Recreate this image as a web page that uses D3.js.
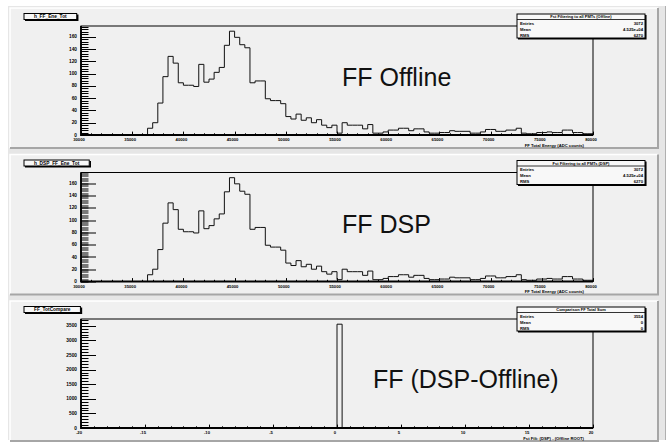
<!DOCTYPE html>
<html>
<head>
<meta charset="utf-8">
<script src="https://cdn.jsdelivr.net/npm/d3@7"></script>
<style>
body { margin: 0; background: #fff; }
svg { display: block; font-family: "Liberation Sans", Arial, sans-serif; }
</style>
</head>
<body>
<div id="graphic"></div>
<script>
// DATA (100 bins per histogram)
var energyTicks = [30000, 35000, 40000, 45000, 50000, 55000, 60000, 65000, 70000, 75000, 80000];
var diffTicks = [-20, -15, -10, -5, 0, 5, 10, 15, 20];
var countTicksFF = [0, 20, 40, 60, 80, 100, 120, 140, 160];
var countTicksDiff = [0, 500, 1000, 1500, 2000, 2500, 3000, 3500];

var ffOffline = [
  0, 0, 0, 0, 0, 0, 0, 0, 0, 0,
  0, 0, 0, 11, 20, 52, 95, 128, 117, 85,
  81, 81, 79, 115, 86, 91, 102, 110, 146, 169,
  159, 147, 142, 85, 88, 88, 59, 56, 56, 51,
  30, 26, 34, 24, 28, 20, 25, 16, 12, 16,
  3, 20, 16, 16, 16, 10, 17, 3, 3, 5,
  8, 8, 11, 11, 7, 10, 10, 5, 3, 3,
  4, 4, 7, 6, 6, 6, 3, 3, 5, 9,
  9, 6, 6, 8, 8, 11, 3, 2, 2, 4,
  4, 5, 4, 4, 8, 8, 4, 4, 2, 2
];
var ffDsp = [
  0, 0, 0, 0, 0, 0, 0, 0, 0, 0,
  0, 0, 0, 11, 20, 52, 95, 128, 117, 85,
  81, 81, 79, 115, 86, 91, 102, 110, 146, 169,
  159, 147, 142, 85, 88, 88, 59, 56, 56, 51,
  30, 26, 34, 24, 28, 20, 25, 16, 12, 16,
  3, 20, 16, 16, 16, 10, 17, 3, 3, 5,
  8, 8, 11, 11, 7, 10, 10, 5, 3, 3,
  4, 4, 7, 6, 6, 6, 3, 3, 5, 9,
  9, 6, 6, 8, 8, 11, 3, 2, 2, 4,
  4, 5, 4, 4, 8, 8, 4, 4, 2, 2
];
var ffDiff = [
  0, 0, 0, 0, 0, 0, 0, 0, 0, 0,
  0, 0, 0, 0, 0, 0, 0, 0, 0, 0,
  0, 0, 0, 0, 0, 0, 0, 0, 0, 0,
  0, 0, 0, 0, 0, 0, 0, 0, 0, 0,
  0, 0, 0, 0, 0, 0, 0, 0, 0, 0,
  3554, 0, 0, 0, 0, 0, 0, 0, 0, 0,
  0, 0, 0, 0, 0, 0, 0, 0, 0, 0,
  0, 0, 0, 0, 0, 0, 0, 0, 0, 0,
  0, 0, 0, 0, 0, 0, 0, 0, 0, 0,
  0, 0, 0, 0, 0, 0, 0, 0, 0, 0
];

var statLabels = ["Entries", "Mean", "RMS"];
var statsOffline = ["3072", "4.525e+04", "6270"];
var statsDsp = ["3072", "4.525e+04", "6270"];
var statsDiff = ["3554", "0", "0"];

var panels = [
  {name: "h_FF_Ene_Tot", counts: ffOffline, domain: [30000, 80000], xTicks: energyTicks, xMinor: 1000,
   yTicks: countTicksFF, yMinor: 4, xTitle: "FF Total Energy (ADC counts)",
   statTitle: "Fst Filtering to all PMTs (Offline)", stats: statsOffline, label: "FF Offline", labelX: 342, labelY: 78},
  {name: "h_DSP_FF_Ene_Tot", counts: ffDsp, domain: [30000, 80000], xTicks: energyTicks, xMinor: 1000,
   yTicks: countTicksFF, yMinor: 4, xTitle: "FF Total Energy (ADC counts)",
   statTitle: "Fst Filtering to all PMTs (DSP)", stats: statsDsp, label: "FF DSP", labelX: 342, labelY: 78},
  {name: "FF_TotCompare", counts: ffDiff, domain: [-20, 20], xTicks: diffTicks, xMinor: 1,
   yTicks: countTicksDiff, yMinor: 100, xTitle: "Fst Filt: (DSP) - (Offline ROOT)",
   statTitle: "Comparison FF Total Sum", stats: statsDiff, label: "FF (DSP-Offline)", labelX: 373, labelY: 87}
];

var W = 670, H = 444;
var padLeft = 10, padRight = 658, padH = 140, padStep = 146.5, padTop0 = 8;
var frameL = 81, frameR = 593, frameT = 18, frameB = 127;

var svg = d3.select("#graphic").append("svg")
    .attr("width", W)
    .attr("height", H);

// canvas background
svg.append("rect").attr("x", 0).attr("y", 0).attr("width", W).attr("height", H).attr("fill", "#fff");
svg.append("rect").attr("x", padLeft - 2).attr("y", padTop0 - 2)
    .attr("width", W - padLeft - 2).attr("height", H - padTop0 - 2)
    .attr("fill", "#e6e6e6");
svg.append("line").attr("x1", 665.5).attr("x2", 665.5).attr("y1", padTop0 - 2).attr("y2", H - 4)
    .attr("stroke", "#b0b0b0").attr("stroke-width", 1);

panels.forEach(function (p, i) {
    var top = padTop0 + i * padStep;
    var g = svg.append("g").attr("transform", "translate(0," + top + ")");

    // pad with raised border
    g.append("rect").attr("x", padLeft).attr("y", 0)
        .attr("width", padRight - padLeft).attr("height", padH)
        .attr("fill", "#f0f0f0");
    g.append("path")
        .attr("d", "M" + padLeft + "," + padH + "V0H" + padRight)
        .attr("fill", "none").attr("stroke", "#fff").attr("stroke-width", 1.5);
    g.append("path")
        .attr("d", "M" + padLeft + "," + padH + "H" + padRight + "V0")
        .attr("fill", "none").attr("stroke", "#a6a6a6").attr("stroke-width", 2);

    var x = d3.scaleLinear().domain(p.domain).range([frameL, frameR]);
    var yMax = d3.max(p.counts) * 1.05;
    var y = d3.scaleLinear().domain([0, yMax]).range([frameB, frameT]);

    // minor / major ticks (ROOT style, drawn inside the frame)
    var yMinors = d3.range(0, yMax, p.yMinor);
    g.selectAll(".ymin").data(yMinors).enter().append("line")
        .attr("x1", frameL).attr("x2", frameL + 7.5)
        .attr("y1", d => Math.round(y(d)) + 0.5).attr("y2", d => Math.round(y(d)) + 0.5)
        .attr("stroke", "#000").attr("stroke-width", 1);
    g.selectAll(".ymaj").data(p.yTicks).enter().append("line")
        .attr("x1", frameL).attr("x2", frameL + 15)
        .attr("y1", d => Math.round(y(d)) + 0.5).attr("y2", d => Math.round(y(d)) + 0.5)
        .attr("stroke", "#000").attr("stroke-width", 1);

    var xMinors = d3.range(p.domain[0], p.domain[1] + p.xMinor / 2, p.xMinor);
    g.selectAll(".xmin").data(xMinors).enter().append("line")
        .attr("x1", d => Math.round(x(d)) + 0.5).attr("x2", d => Math.round(x(d)) + 0.5)
        .attr("y1", frameB).attr("y2", frameB - 1.7)
        .attr("stroke", "#000").attr("stroke-width", 1);
    g.selectAll(".xmaj").data(p.xTicks).enter().append("line")
        .attr("x1", d => Math.round(x(d)) + 0.5).attr("x2", d => Math.round(x(d)) + 0.5)
        .attr("y1", frameB).attr("y2", frameB - 3.4)
        .attr("stroke", "#000").attr("stroke-width", 1);

    // histogram outline
    var bw = (p.domain[1] - p.domain[0]) / p.counts.length;
    var line = d3.line().curve(d3.curveStepAfter);
    var pts = [[x(p.domain[0]), y(0)]];
    p.counts.forEach(function (c, k) {
        pts.push([x(p.domain[0] + k * bw), y(c)]);
    });
    pts.push([x(p.domain[1]), y(0)]);
    g.append("path")
        .attr("d", line(pts))
        .attr("fill", "none").attr("stroke", "#111").attr("stroke-width", 1);

    // frame
    g.append("rect").attr("x", frameL).attr("y", frameT)
        .attr("width", frameR - frameL).attr("height", frameB - frameT)
        .attr("fill", "none").attr("stroke", "#000").attr("stroke-width", 1);
    g.append("path").attr("d", "M" + frameL + "," + frameT + "V" + frameB + "H" + frameR)
        .attr("fill", "none").attr("stroke", "#000").attr("stroke-width", 1.8);

    // tick labels
    g.selectAll(".yl").data(p.yTicks).enter().append("text")
        .attr("x", frameL - 4).attr("y", d => y(d) + 1.6)
        .attr("text-anchor", "end").attr("font-size", 4.8).attr("font-weight", "bold")
        .text(d => d);
    g.selectAll(".xl").data(p.xTicks).enter().append("text")
        .attr("x", d => x(d) - 2).attr("y", frameB + 6)
        .attr("text-anchor", "middle").attr("font-size", 4.2).attr("font-weight", "bold")
        .text(d => d);
    g.append("text")
        .attr("x", 584).attr("y", frameB + 11.5)
        .attr("text-anchor", "end").attr("font-size", 4.2).attr("font-weight", "bold")
        .text(p.xTitle);

    // title box
    var tt = g.append("text")
        .attr("y", 10.2).attr("font-size", 4.8).attr("font-weight", "bold")
        .attr("text-anchor", "middle").text(p.name);
    var tw = tt.node().getComputedTextLength() + 20;
    g.insert("rect", "text:last-of-type")
        .attr("x", 24).attr("y", 5.5).attr("width", tw).attr("height", 6)
        .attr("fill", "#f8f8f8").attr("stroke", "#000").attr("stroke-width", 1);
    g.append("path").attr("d", "M25," + 12.3 + "H" + (25 + tw) + "V6.5")
        .attr("fill", "none").attr("stroke", "#000").attr("stroke-width", 1.5);
    tt.raise().attr("x", 24 + tw / 2);

    // stats box
    var sx = 517, sy = 6, sw = 128, sh = 24;
    g.append("rect").attr("x", sx).attr("y", sy).attr("width", sw).attr("height", sh)
        .attr("fill", "#f8f8f8").attr("stroke", "#000").attr("stroke-width", 1);
    g.append("path").attr("d", "M" + (sx + 1) + "," + (sy + sh + 0.8) + "H" + (sx + sw + 0.8) + "V" + (sy + 1))
        .attr("fill", "none").attr("stroke", "#000").attr("stroke-width", 1.5);
    g.append("line").attr("x1", sx).attr("x2", sx + sw).attr("y1", sy + 5.5).attr("y2", sy + 5.5)
        .attr("stroke", "#000").attr("stroke-width", 0.8);
    g.append("text").attr("x", sx + sw / 2).attr("y", sy + 4.3)
        .attr("text-anchor", "middle").attr("font-size", 4).attr("font-weight", "bold")
        .text(p.statTitle);
    statLabels.forEach(function (s, k) {
        g.append("text").attr("x", sx + 3).attr("y", sy + 10.5 + k * 6)
            .attr("font-size", 4.2).attr("font-weight", "bold").text(s);
        g.append("text").attr("x", sx + sw - 2).attr("y", sy + 10.5 + k * 6)
            .attr("text-anchor", "end").attr("font-size", 4.2).attr("font-weight", "bold").text(p.stats[k]);
    });

    // big annotation
    g.append("text").attr("x", p.labelX).attr("y", p.labelY)
        .attr("font-size", 25).attr("fill", "#111")
        .text(p.label);
});
</script>
</body>
</html>
